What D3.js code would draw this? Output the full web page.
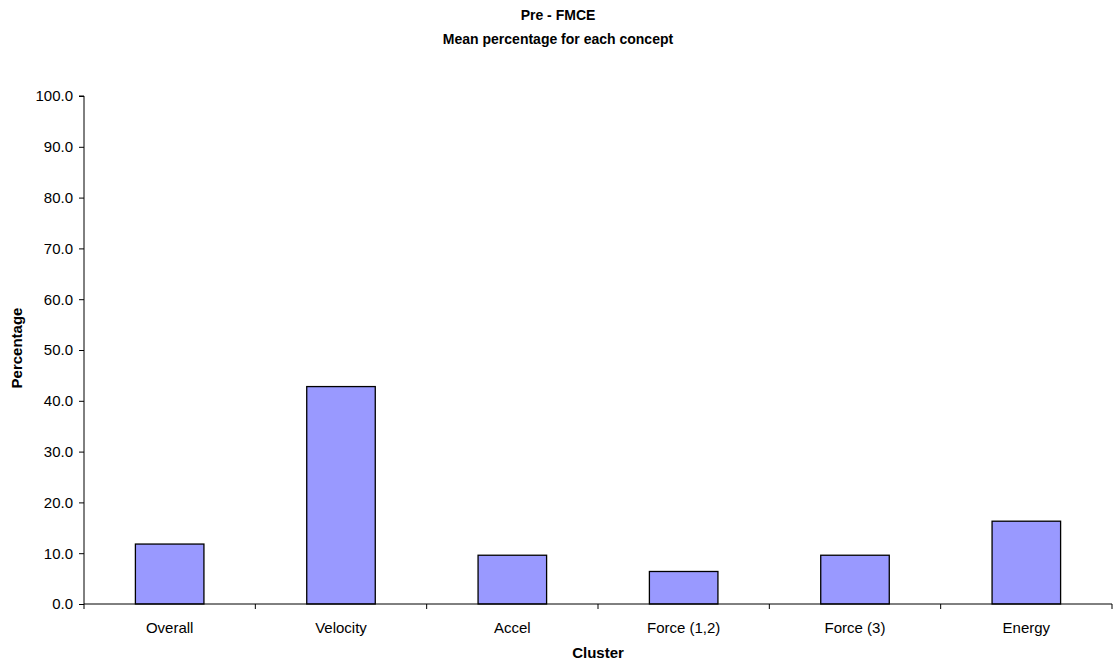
<!DOCTYPE html>
<html>
<head>
<meta charset="utf-8">
<script src="https://cdn.jsdelivr.net/npm/d3@7"></script>
<style>
  html, body { margin: 0; padding: 0; background: #fff; }
  svg { display: block; font-family: "Liberation Sans", Arial, sans-serif; }
</style>
</head>
<body>
<svg id="chart" width="1117" height="666"></svg>
<script>
// Mean FMCE pre-test percentage by concept cluster
const categories = ["Overall", "Velocity", "Accel", "Force (1,2)", "Force (3)", "Energy"];
const values = [11.8, 42.8, 9.6, 6.4, 9.6, 16.3];
const yTicks = [0, 10, 20, 30, 40, 50, 60, 70, 80, 90, 100];

const svg = d3.select("#chart");
const margin = { left: 84, right: 5, top: 96, bottom: 62 };
const W = 1117, H = 666;

const x = d3.scaleBand().domain(categories)
  .range([margin.left, W - margin.right]).paddingInner(0.6).paddingOuter(0.3);
const y = d3.scaleLinear().domain([0, 100]).range([H - margin.bottom, margin.top]);

// Bars
svg.append("g").selectAll("rect").data(values).join("rect")
  .attr("x", (d, i) => x(categories[i]))
  .attr("y", d => y(d))
  .attr("width", x.bandwidth())
  .attr("height", d => y(0) - y(d))
  .attr("fill", "#9999ff")
  .attr("stroke", "#000")
  .attr("stroke-width", 1.3);

// Y axis
const yAxis = svg.append("g")
  .attr("transform", `translate(${margin.left},0)`)
  .call(d3.axisLeft(y).tickValues(yTicks).tickFormat(d3.format(".1f")).tickSize(5).tickPadding(6));
yAxis.select(".domain").attr("stroke", "#000").attr("d", `M-5,${y(100)}H0V${y(0)}`);
yAxis.selectAll("text").attr("font-size", 15).attr("fill", "#000")
  .attr("font-family", "'Liberation Sans', Arial, sans-serif");
yAxis.selectAll("line").attr("stroke", "#000");

// X axis with ticks at category boundaries
const xg = svg.append("g").attr("transform", `translate(0,${y(0)})`);
xg.append("line").attr("x1", margin.left).attr("x2", W - margin.right)
  .attr("stroke", "#000").attr("stroke-width", 1);
const step = (W - margin.right - margin.left) / categories.length;
xg.selectAll("line.tick").data(d3.range(categories.length + 1)).join("line")
  .attr("class", "tick")
  .attr("x1", i => margin.left + i * step).attr("x2", i => margin.left + i * step)
  .attr("y1", 0).attr("y2", 5).attr("stroke", "#000");
xg.selectAll("text").data(categories).join("text")
  .attr("x", d => x(d) + x.bandwidth() / 2)
  .attr("y", 29)
  .attr("text-anchor", "middle")
  .attr("font-size", 15)
  .text(d => d);

// Titles
svg.append("text").attr("x", 558).attr("y", 20).attr("text-anchor", "middle")
  .attr("font-size", 14).attr("font-weight", "bold").text("Pre - FMCE");
svg.append("text").attr("x", 558).attr("y", 44).attr("text-anchor", "middle")
  .attr("font-size", 14).attr("font-weight", "bold").text("Mean percentage for each concept");

svg.append("text").attr("x", 598).attr("y", 658).attr("text-anchor", "middle")
  .attr("font-size", 15).attr("font-weight", "bold").text("Cluster");
svg.append("text").attr("transform", "translate(22,348) rotate(-90)")
  .attr("text-anchor", "middle").attr("font-size", 15).attr("font-weight", "bold").text("Percentage");
</script>
</body>
</html>
